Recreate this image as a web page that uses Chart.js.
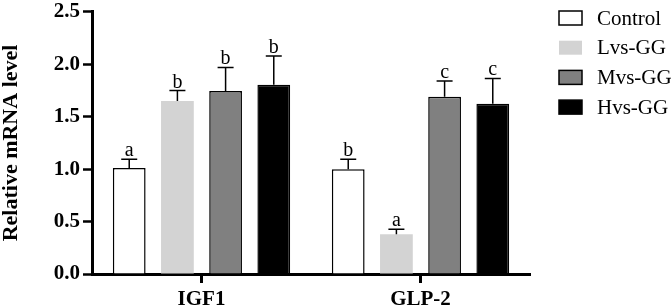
<!DOCTYPE html>
<html>
<head>
<meta charset="utf-8">
<script src="https://cdn.jsdelivr.net/npm/chart.js@4"></script>
<style>
  html, body { margin: 0; padding: 0; background: #fff; }
  #wrap { width: 671px; height: 308px; }
</style>
</head>
<body>
<div id="wrap"><canvas id="chart"></canvas></div>
<script>
// genes on the x axis
const genes = ['IGF1', 'GLP-2'];

// group means
const controlVals = [1.01, 1.00];
const lvsVals = [1.65, 0.38];
const mvsVals = [1.745, 1.69];
const hvsVals = [1.805, 1.625];

// upper error (SD)
const controlErr = [0.085, 0.095];
const lvsErr = [0.10, 0.047];
const mvsErr = [0.225, 0.15];
const hvsErr = [0.275, 0.24];

// significance letters
const controlSig = ['a', 'b'];
const lvsSig = ['b', 'a'];
const mvsSig = ['b', 'c'];
const hvsSig = ['b', 'c'];

const yTicks = [0, 0.5, 1.0, 1.5, 2.0, 2.5];

const serif = '"Liberation Serif", "Times New Roman", serif';

// error bars + letters on top of each bar
const errorBars = {
  id: 'errorBars',
  afterDatasetsDraw(chart) {
    const ctx = chart.ctx;
    const yScale = chart.scales.y;
    ctx.save();
    ctx.strokeStyle = '#000';
    ctx.lineWidth = 1.5;
    ctx.fillStyle = '#000';
    ctx.font = '20px ' + serif;
    ctx.textAlign = 'center';
    ctx.textBaseline = 'alphabetic';
    chart.data.datasets.forEach((ds, i) => {
      const meta = chart.getDatasetMeta(i);
      meta.data.forEach((bar, j) => {
        const x = bar.x;
        const yTop = yScale.getPixelForValue(ds.data[j]);
        const yErr = yScale.getPixelForValue(ds.data[j] + ds.errors[j]);
        ctx.beginPath();
        ctx.moveTo(x, yTop);
        ctx.lineTo(x, yErr);
        ctx.moveTo(x - 8, yErr);
        ctx.lineTo(x + 8, yErr);
        ctx.stroke();
        ctx.fillText(ds.letters[j], x, yErr - 3);
      });
    });
    ctx.restore();
  }
};

// legend drawn at the right like the original figure
const sideLegend = {
  id: 'sideLegend',
  afterDraw(chart) {
    const ctx = chart.ctx;
    ctx.save();
    ctx.font = '21px ' + serif;
    ctx.textBaseline = 'middle';
    ctx.textAlign = 'left';
    chart.data.datasets.forEach((ds, i) => {
      const cy = 18 + i * 29.7;
      ctx.fillStyle = ds.backgroundColor;
      ctx.fillRect(559, cy - 7, 23, 14);
      if (ds.borderWidth > 0) {
        ctx.strokeStyle = '#000';
        ctx.lineWidth = 1.5;
        ctx.strokeRect(559, cy - 7, 23, 14);
      }
      ctx.fillStyle = '#000';
      ctx.fillText(ds.label, 597, cy + 1);
    });
    ctx.restore();
  }
};

new Chart(document.getElementById('chart'), {
  type: 'bar',
  data: {
    labels: genes,
    datasets: [
      { label: 'Control', data: controlVals, errors: controlErr, letters: controlSig,
        backgroundColor: '#ffffff', borderColor: '#000', borderWidth: 1.5 },
      { label: 'Lvs-GG', data: lvsVals, errors: lvsErr, letters: lvsSig,
        backgroundColor: '#d3d3d3', borderColor: '#d3d3d3', borderWidth: 0 },
      { label: 'Mvs-GG', data: mvsVals, errors: mvsErr, letters: mvsSig,
        backgroundColor: '#808080', borderColor: '#000', borderWidth: 1.5 },
      { label: 'Hvs-GG', data: hvsVals, errors: hvsErr, letters: hvsSig,
        backgroundColor: '#000000', borderColor: '#000', borderWidth: 1.5 }
    ]
  },
  options: {
    responsive: true,
    maintainAspectRatio: false,
    animation: false,
    layout: { padding: { top: 8, right: 141, bottom: 0, left: 0 } },
    datasets: {
      bar: { categoryPercentage: 0.88, barPercentage: 0.68, borderSkipped: 'start' }
    },
    plugins: {
      legend: { display: false },
      tooltip: { enabled: false }
    },
    scales: {
      x: {
        grid: { display: true, drawOnChartArea: false, offset: false, tickLength: 9, tickWidth: 3, tickColor: '#000' },
        border: { display: true, color: '#000', width: 3 },
        ticks: { color: '#000', padding: 4, font: { family: serif, size: 21, weight: 'bold' } },
        afterFit: s => { s.height = 34; }
      },
      y: {
        min: 0,
        max: 2.5,
        afterBuildTicks: s => { s.ticks = yTicks.map(v => ({ value: v })); },
        grid: { display: true, drawOnChartArea: false, tickLength: 9, tickWidth: 2.5, tickColor: '#000' },
        border: { display: true, color: '#000', width: 3 },
        ticks: {
          color: '#000', padding: 3,
          font: { family: serif, size: 21, weight: 'bold', lineHeight: 0.85 },
          callback: v => Number(v).toFixed(1)
        },
        title: {
          display: true, text: 'Relative mRNA level', color: '#000',
          padding: { top: 0, bottom: 0 },
          font: { family: serif, size: 22, weight: 'bold', lineHeight: 1 }
        },
        afterFit: s => { s.width = 92; }
      }
    }
  },
  plugins: [errorBars, sideLegend]
});
</script>
</body>
</html>
